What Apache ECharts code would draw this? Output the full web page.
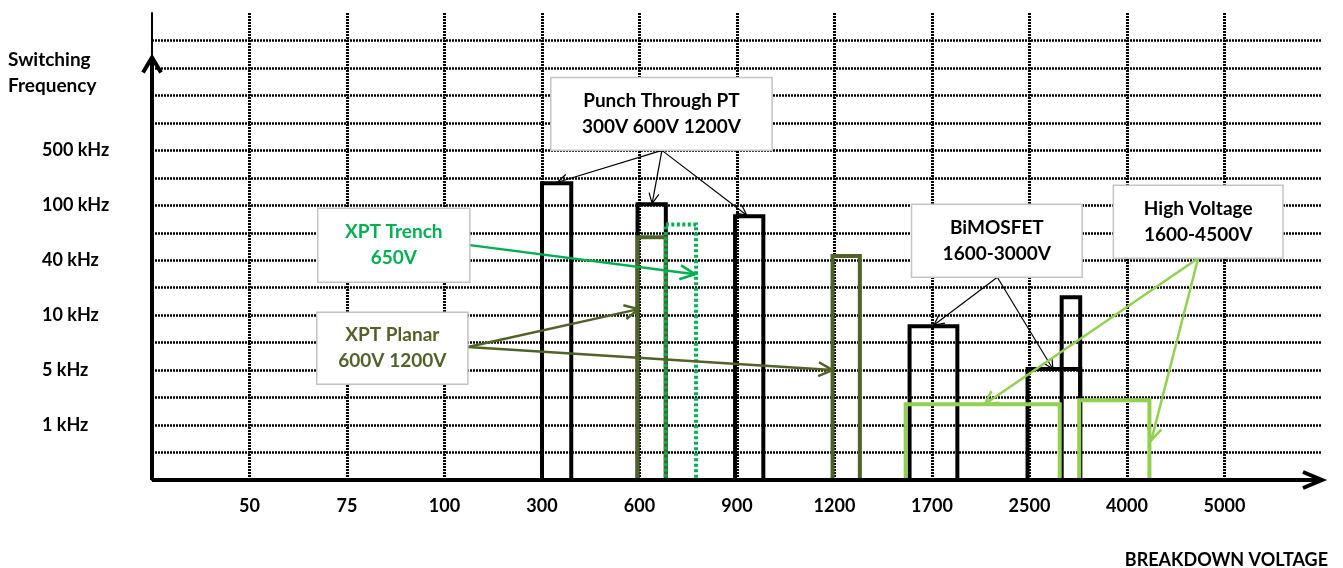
<!DOCTYPE html>
<html>
<head>
<meta charset="utf-8">
<title>Switching frequency vs breakdown voltage</title>
<script src="https://cdn.jsdelivr.net/npm/echarts@6/dist/echarts.min.js"></script>
<style>
  html, body { margin: 0; padding: 0; background: #fff; }
  #chart { width: 1343px; height: 568px; }
</style>
</head>
<body>
<div id="chart"></div>
<script>
  // tick labels
  const voltageLabels = ['50', '75', '100', '300', '600', '900', '1200', '1700', '2500', '4000', '5000'];
  const freqTickPos = [2, 4, 6, 8, 10, 12];
  const freqLabels = ['1 kHz', '5 kHz', '10 kHz', '40 kHz', '100 kHz', '500 kHz'];

  // bars as [left, right, top] in axis units
  const ptBars = [[4.0, 4.3, 10.8], [4.98, 5.27, 10.04], [5.98, 6.27, 9.6]];
  const bimosfetBars = [[7.77, 8.26, 5.6], [8.98, 9.52, 4.04], [9.33, 9.52, 6.65]];
  const xptPlanarBars = [[4.98, 5.27, 8.84], [6.98, 7.26, 8.15]];
  const xptTrenchBars = [[5.27, 5.58, 9.3]];
  const highVoltageBars = [[7.73, 9.31, 2.76], [9.51, 10.23, 2.9]];

  const FONT = 'Lato, "Open Sans", sans-serif';
  const BLACK = '#000000';
  const OLIVE = '#4f6228';
  const GREEN = '#00b050';
  const LIGHT_GREEN = '#92d050';

  const rectItem = (color, width, dash) => (params, api) => {
    const a = api.coord([api.value(0), api.value(2)]);
    const b = api.coord([api.value(1), 0]);
    return {
      type: 'rect',
      shape: { x: a[0], y: a[1], width: b[0] - a[0], height: b[1] - a[1] },
      style: { fill: 'none', stroke: color, lineWidth: width, lineDash: dash || null }
    };
  };

  const arrowItem = (color, width, len, half) => (params, api) => {
    const p = api.coord([api.value(0), api.value(1)]);
    const q = api.coord([api.value(2), api.value(3)]);
    const dx = q[0] - p[0], dy = q[1] - p[1];
    const d = Math.hypot(dx, dy), ux = dx / d, uy = dy / d;
    const bx = q[0] - ux * len, by = q[1] - uy * len;
    return {
      type: 'group',
      children: [
        { type: 'line', shape: { x1: p[0], y1: p[1], x2: q[0], y2: q[1] },
          style: { stroke: color, lineWidth: width } },
        { type: 'polyline',
          shape: { points: [[bx - uy * half, by + ux * half], q, [bx + uy * half, by - ux * half]] },
          style: { stroke: color, lineWidth: width, fill: 'none' } }
      ]
    };
  };

  // annotation boxes: [x0, x1, yTop, yBottom] in axis units
  const notes = [
    { box: [4.09, 6.36, 14.65, 12.0], text: 'Punch Through PT\n300V 600V 1200V', color: BLACK },
    { box: [1.70, 3.26, 9.89, 7.2], text: 'XPT Trench\n650V', color: GREEN },
    { box: [1.69, 3.24, 6.11, 3.49], text: 'XPT Planar\n600V 1200V', color: OLIVE },
    { box: [7.79, 9.54, 10.04, 7.38], text: 'BiMOSFET\n1600-3000V', color: BLACK },
    { box: [9.86, 11.6, 10.73, 8.07], text: 'High Voltage\n1600-4500V', color: BLACK }
  ];

  const noteItem = (params, api) => {
    const n = notes[params.dataIndex];
    const a = api.coord([api.value(0), api.value(2)]);
    const b = api.coord([api.value(1), api.value(3)]);
    return {
      type: 'group',
      children: [
        { type: 'rect', shape: { x: a[0], y: a[1], width: b[0] - a[0], height: b[1] - a[1] },
          style: { fill: '#fff', stroke: '#c4c4c4', lineWidth: 1.5 } },
        { type: 'text',
          style: { text: n.text, x: (a[0] + b[0]) / 2, y: (a[1] + b[1]) / 2,
                   align: 'center', verticalAlign: 'middle', lineHeight: 26,
                   fontFamily: FONT, fontWeight: 'bold', fontSize: 19, fill: n.color } }
      ]
    };
  };

  const chart = echarts.init(document.getElementById('chart'));

  chart.setOption({
    animation: false,
    backgroundColor: '#fff',
    title: [
      { text: 'Switching\nFrequency', left: 8, top: 47, padding: 0,
        textStyle: { fontFamily: FONT, fontWeight: 'bold', fontSize: 19, lineHeight: 26, color: BLACK } },
      { text: 'BREAKDOWN VOLTAGE', right: 15, top: 550, padding: 0,
        textStyle: { fontFamily: FONT, fontWeight: 'bold', fontSize: 18, lineHeight: 20, color: BLACK } }
    ],
    grid: { left: 152, right: 21, top: 13, bottom: 88 },
    xAxis: {
      type: 'value', min: 0, max: 12, interval: 1,
      axisLine: { show: false },
      axisTick: { show: false },
      axisLabel: {
        margin: 17, color: BLACK, fontFamily: FONT, fontWeight: 'bold', fontSize: 18,
        formatter: v => voltageLabels[v - 1] || ''
      },
      splitLine: {
        show: true, showMinLine: false, showMaxLine: false,
        lineStyle: { color: BLACK, width: 3, type: [2, 1] }
      }
    },
    yAxis: {
      type: 'value', min: 0, max: 17, interval: 1,
      axisLine: { show: true, lineStyle: { color: BLACK, width: 2 } },
      axisTick: { show: false },
      axisLabel: {
        margin: 110, align: 'left', color: BLACK, fontFamily: FONT, fontWeight: 'bold', fontSize: 18,
        formatter: v => {
          const i = freqTickPos.indexOf(v);
          return i >= 0 ? freqLabels[i] : '';
        }
      },
      splitLine: {
        show: true, showMinLine: false, showMaxLine: false,
        lineStyle: { color: BLACK, width: 2.5, type: [2, 1] }
      }
    },
    series: [
      { type: 'custom', name: 'PT', renderItem: rectItem(BLACK, 4), data: ptBars, z: 2 },
      { type: 'custom', name: 'BiMOSFET', renderItem: rectItem(BLACK, 4), data: bimosfetBars, z: 2 },
      { type: 'custom', name: 'XPT Planar', renderItem: rectItem(OLIVE, 4), data: xptPlanarBars, z: 3 },
      { type: 'custom', name: 'XPT Trench', renderItem: rectItem(GREEN, 4, [3, 2.5]), data: xptTrenchBars, z: 4 },
      { type: 'custom', name: 'High Voltage', renderItem: rectItem(LIGHT_GREEN, 4), data: highVoltageBars, z: 5 },
      // pointers from the boxes
      { type: 'custom', renderItem: arrowItem(BLACK, 1.2, 10, 5), z: 6,
        data: [[5.23, 12.0, 4.16, 10.84], [5.23, 12.0, 5.13, 10.07], [5.23, 12.0, 6.10, 9.64],
               [8.67, 7.38, 8.02, 5.64], [8.67, 7.38, 9.24, 4.04]] },
      { type: 'custom', renderItem: arrowItem(GREEN, 2.5, 15, 7), z: 6,
        data: [[3.26, 8.55, 5.57, 7.49]] },
      { type: 'custom', renderItem: arrowItem(OLIVE, 2.5, 14, 7), z: 6,
        data: [[3.24, 4.84, 4.99, 6.22], [3.24, 4.84, 6.98, 4.0]] },
      { type: 'custom', renderItem: arrowItem(LIGHT_GREEN, 2.5, 13, 7), z: 6,
        data: [[10.73, 8.07, 8.54, 2.76], [10.73, 8.07, 10.25, 1.45]] },
      // boxes
      { type: 'custom', renderItem: noteItem, z: 7, data: notes.map(n => n.box) },
      // axis arrows
      { type: 'custom', renderItem: arrowItem(BLACK, 4, 15, 9), z: 8, data: [[0, 0, 0, 15.38]] },
      { type: 'custom', renderItem: arrowItem(BLACK, 4, 19, 8), z: 8, data: [[0, 0, 12, 0]] }
    ]
  });
</script>
</body>
</html>
